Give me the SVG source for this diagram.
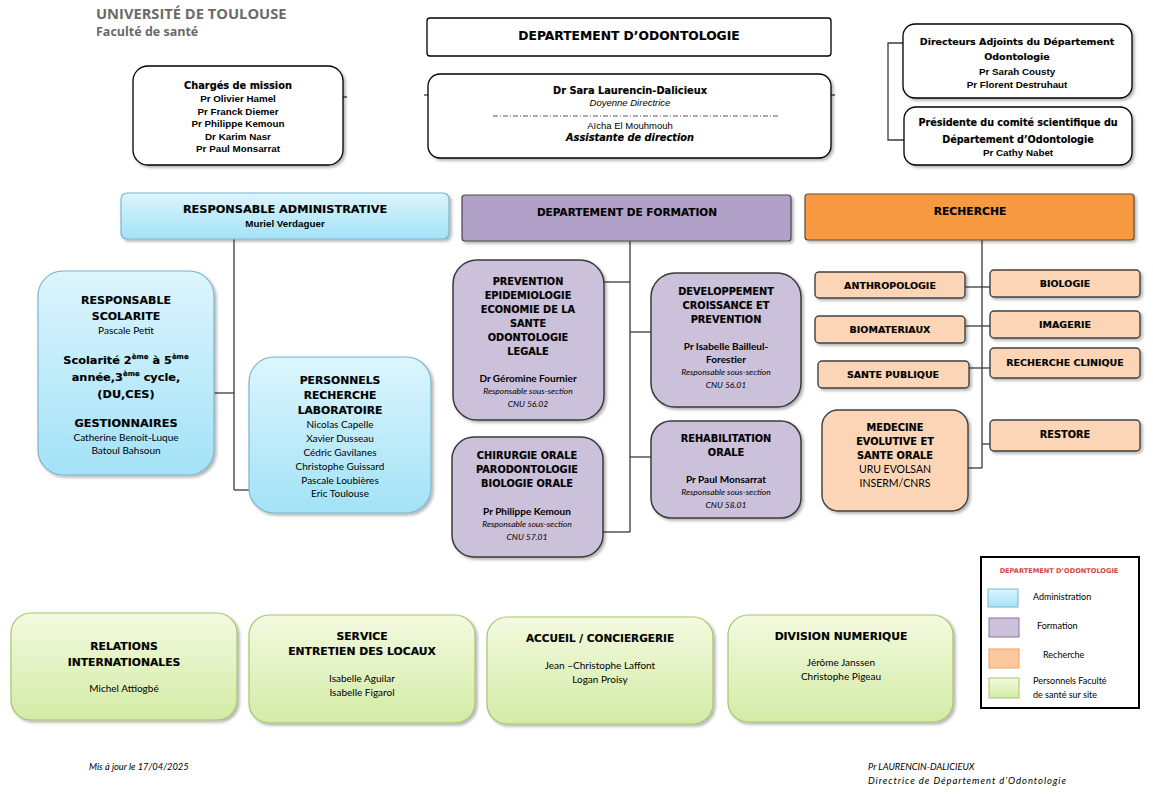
<svg xmlns="http://www.w3.org/2000/svg" width="1153" height="799" viewBox="0 0 1153 799">
<style>
text{text-anchor:middle;fill:#000}
.hv{font-family:"DejaVu Sans",Verdana,sans-serif;font-weight:bold;stroke:#000;stroke-width:0.15}
.ab{font-family:"Liberation Sans",Arial,sans-serif;font-weight:bold}
.ar{font-family:"Liberation Sans",Arial,sans-serif}
.ai{font-family:"Liberation Sans",Arial,sans-serif;font-style:italic}
.cb{font-family:Lato,"Open Sans",sans-serif}
.cbb{font-family:Lato,"Open Sans",sans-serif;font-weight:bold}
.ci{font-family:Lato,"Open Sans",sans-serif;font-style:italic}
.top{fill:#fff;stroke:#000;stroke-width:1.3}
.adm{fill:url(#blue);stroke:#7ab5cc;stroke-width:1.2}
.frm{fill:#ccc1da;stroke:#3a3a3a;stroke-width:1.5}
.frh{fill:#b1a0c7;stroke:#4a4a4a;stroke-width:1.2}
.rch{fill:#f89a42;stroke:#6b4a2a;stroke-width:1.2}
.rcs{fill:#fbd5b5;stroke:#404040;stroke-width:1.4}
.grn{fill:url(#green);stroke:#a7c36b;stroke-width:1.2}
.ln{stroke:#3a3a3a;stroke-width:1.3;fill:none}
</style>
<defs>
<linearGradient id="blue" x1="0" y1="0" x2="0" y2="1"><stop offset="0" stop-color="#dcf5fd"/><stop offset="1" stop-color="#a3e2f7"/></linearGradient>
<linearGradient id="green" x1="0" y1="0" x2="0" y2="1"><stop offset="0" stop-color="#f3fadf"/><stop offset="1" stop-color="#d3eba6"/></linearGradient>
<filter id="sh" x="-10%" y="-10%" width="130%" height="130%"><feDropShadow dx="2" dy="2" stdDeviation="1.5" flood-color="#000" flood-opacity="0.3"/></filter>
</defs>
<rect width="1153" height="799" fill="#fff"/>

<g id="logo">
<text x="96" y="19" style="text-anchor:start;font-family:'Open Sans',sans-serif;font-weight:bold;font-size:14.7px;fill:#6a6a6a">UNIVERSITÉ DE TOULOUSE</text>
<text x="96" y="36" style="text-anchor:start;font-family:'Open Sans',sans-serif;font-weight:bold;font-size:12.5px;fill:#6a6a6a">Faculté de santé</text>
</g>

<g id="connectors">
<line class="ln" x1="343" y1="97" x2="347" y2="97"/>
<line class="ln" x1="424" y1="95" x2="428" y2="95"/>
<line class="ln" x1="831" y1="95" x2="835" y2="95"/>
<polyline class="ln" points="903,43 888,43 888,140 904,140"/>
<line class="ln" x1="234" y1="239" x2="234" y2="490"/>
<line class="ln" x1="214" y1="393" x2="234" y2="393"/>
<line class="ln" x1="234" y1="490" x2="250" y2="490"/>
<line class="ln" x1="630" y1="241" x2="630" y2="532"/>
<line class="ln" x1="604" y1="282" x2="630" y2="282"/>
<line class="ln" x1="630" y1="332" x2="651" y2="332"/>
<line class="ln" x1="630" y1="457" x2="651" y2="457"/>
<line class="ln" x1="603" y1="532" x2="630" y2="532"/>
<line class="ln" x1="982" y1="240" x2="982" y2="468"/>
<line class="ln" x1="965" y1="287" x2="990" y2="287"/>
<line class="ln" x1="965" y1="326" x2="990" y2="326"/>
<line class="ln" x1="969" y1="368" x2="990" y2="368"/>
<line class="ln" x1="982" y1="444" x2="990" y2="444"/>
<line class="ln" x1="968" y1="468" x2="982" y2="468"/>
</g>

<g id="dept">
<rect class="top" x="427" y="18" width="404" height="38" rx="3"/>
<text class="hv" x="629" y="40" font-size="12.3">DEPARTEMENT D’ODONTOLOGIE</text>
</g>

<g id="charges">
<rect class="top" x="133" y="66" width="210" height="99" rx="15" filter="url(#sh)"/>
<text class="hv" x="238" y="89" font-size="9.8">Chargés de mission</text>
<text class="ab" x="238" y="102" font-size="9.8">Pr Olivier Hamel</text>
<text class="ab" x="238" y="114.5" font-size="9.8">Pr Franck Diemer</text>
<text class="ab" x="238" y="127" font-size="9.8">Pr Philippe Kemoun</text>
<text class="ab" x="238" y="139.5" font-size="9.8">Dr Karim Nasr</text>
<text class="ab" x="238" y="152" font-size="9.8">Pr Paul Monsarrat</text>
</g>

<g id="doyenne">
<rect class="top" x="428" y="74" width="403" height="84" rx="12" filter="url(#sh)"/>
<text class="hv" x="630" y="94" font-size="9.8">Dr Sara Laurencin-Dalicieux</text>
<text class="ai" x="630" y="106" font-size="9.5">Doyenne Directrice</text>
<line x1="493" y1="116" x2="780" y2="116" stroke="#555" stroke-width="1" stroke-dasharray="5,2,1,2"/>
<text class="ar" x="630" y="129" font-size="9.5">Aïcha El Mouhmouh</text>
<text class="hv" x="630" y="141" font-size="9.8" font-style="italic">Assistante de direction</text>
</g>

<g id="directeurs">
<rect class="top" x="903" y="24" width="229" height="74" rx="12" filter="url(#sh)"/>
<text class="hv" x="1017" y="45" font-size="9.5">Directeurs Adjoints du Département</text>
<text class="hv" x="1017" y="60" font-size="9.5">Odontologie</text>
<text class="ab" x="1017" y="75" font-size="9.8">Pr Sarah Cousty</text>
<text class="ab" x="1017" y="88" font-size="9.8">Pr Florent Destruhaut</text>
</g>

<g id="presidente">
<rect class="top" x="904" y="107" width="228" height="58" rx="12" filter="url(#sh)"/>
<text class="hv" x="1018" y="126" font-size="9.6">Présidente du comité scientifique du</text>
<text class="hv" x="1018" y="143" font-size="9.6">Département d’Odontologie</text>
<text class="ab" x="1018" y="156" font-size="9.8">Pr Cathy Nabet</text>
</g>

<g id="resp-admin">
<rect class="adm" x="121" y="193" width="328" height="46" rx="6" filter="url(#sh)"/>
<text class="hv" x="285" y="213" font-size="11.3">RESPONSABLE ADMINISTRATIVE</text>
<text class="ab" x="285" y="227" font-size="9.8">Muriel Verdaguer</text>
</g>

<g id="dept-formation">
<rect class="frh" x="462" y="195" width="329" height="46" rx="3" filter="url(#sh)"/>
<text class="hv" x="627" y="216" font-size="10.5">DEPARTEMENT DE FORMATION</text>
</g>

<g id="recherche">
<rect class="rch" x="805" y="194" width="329" height="46" rx="3" filter="url(#sh)"/>
<text class="hv" x="970" y="215" font-size="10.8">RECHERCHE</text>
</g>

<g id="scolarite">
<rect class="adm" x="38" y="271" width="176" height="204" rx="25" filter="url(#sh)"/>
<text class="hv" x="126" y="304" font-size="11">RESPONSABLE</text>
<text class="hv" x="126" y="320" font-size="11">SCOLARITE</text>
<text class="cb" x="126" y="334" font-size="10">Pascale Petit</text>
<text class="hv" x="126" y="364" font-size="11.3">Scolarité 2<tspan font-size="7" dy="-5">ème</tspan><tspan dy="5"> à 5</tspan><tspan font-size="7" dy="-5">ème</tspan></text>
<text class="hv" x="126" y="381" font-size="11.3">année,3<tspan font-size="7" dy="-5">ème</tspan><tspan dy="5"> cycle,</tspan></text>
<text class="hv" x="126" y="398" font-size="11.3">(DU,CES)</text>
<text class="hv" x="126" y="427" font-size="11.3">GESTIONNAIRES</text>
<text class="cb" x="126" y="441" font-size="10">Catherine Benoit-Luque</text>
<text class="cb" x="126" y="454" font-size="10">Batoul Bahsoun</text>
</g>

<g id="personnels-recherche">
<rect class="adm" x="249" y="357" width="182" height="156" rx="25" filter="url(#sh)"/>
<text class="hv" x="340" y="384" font-size="10.8">PERSONNELS</text>
<text class="hv" x="340" y="399" font-size="10.8">RECHERCHE</text>
<text class="hv" x="340" y="414" font-size="10.8">LABORATOIRE</text>
<text class="cb" x="340" y="428" font-size="10">Nicolas Capelle</text>
<text class="cb" x="340" y="442" font-size="10">Xavier Dusseau</text>
<text class="cb" x="340" y="456" font-size="10">Cédric Gavilanes</text>
<text class="cb" x="340" y="470" font-size="10">Christophe Guissard</text>
<text class="cb" x="340" y="484" font-size="10">Pascale Loubières</text>
<text class="cb" x="340" y="497" font-size="10">Eric Toulouse</text>
</g>

<g id="prevention">
<rect class="frm" x="453" y="260" width="151" height="160" rx="24" filter="url(#sh)"/>
<text class="hv" x="528" y="285" font-size="9.8">PREVENTION</text>
<text class="hv" x="528" y="299" font-size="9.8">EPIDEMIOLOGIE</text>
<text class="hv" x="528" y="313" font-size="9.8">ECONOMIE DE LA</text>
<text class="hv" x="528" y="327" font-size="9.8">SANTE</text>
<text class="hv" x="528" y="341" font-size="9.8">ODONTOLOGIE</text>
<text class="hv" x="528" y="355" font-size="9.8">LEGALE</text>
<text class="cbb" x="528" y="382" font-size="10">Dr Géromine Fournier</text>
<text class="ci" x="528" y="394" font-size="8.5">Responsable sous-section</text>
<text class="ci" x="528" y="407" font-size="8.5">CNU 56.02</text>
</g>

<g id="chirurgie">
<rect class="frm" x="452" y="437" width="151" height="120" rx="22" filter="url(#sh)"/>
<text class="hv" x="527" y="459" font-size="9.8">CHIRURGIE ORALE</text>
<text class="hv" x="527" y="473" font-size="9.8">PARODONTOLOGIE</text>
<text class="hv" x="527" y="487" font-size="9.8">BIOLOGIE ORALE</text>
<text class="cbb" x="527" y="515" font-size="10">Pr Philippe Kemoun</text>
<text class="ci" x="527" y="527" font-size="8.5">Responsable sous-section</text>
<text class="ci" x="527" y="540" font-size="8.5">CNU 57.01</text>
</g>

<g id="developpement">
<rect class="frm" x="651" y="273" width="150" height="134" rx="24" filter="url(#sh)"/>
<text class="hv" x="726" y="295" font-size="9.8">DEVELOPPEMENT</text>
<text class="hv" x="726" y="309" font-size="9.8">CROISSANCE ET</text>
<text class="hv" x="726" y="323" font-size="9.8">PREVENTION</text>
<text class="cbb" x="726" y="350" font-size="10">Pr Isabelle Bailleul-</text>
<text class="cbb" x="726" y="363" font-size="10">Forestier</text>
<text class="ci" x="726" y="375" font-size="8.5">Responsable sous-section</text>
<text class="ci" x="726" y="388" font-size="8.5">CNU 56.01</text>
</g>

<g id="rehabilitation">
<rect class="frm" x="651" y="421" width="150" height="97" rx="20" filter="url(#sh)"/>
<text class="hv" x="726" y="442" font-size="9.8">REHABILITATION</text>
<text class="hv" x="726" y="456" font-size="9.8">ORALE</text>
<text class="cbb" x="726" y="483" font-size="10">Pr Paul Monsarrat</text>
<text class="ci" x="726" y="495" font-size="8.5">Responsable sous-section</text>
<text class="ci" x="726" y="508" font-size="8.5">CNU 58.01</text>
</g>

<g id="anthropologie">
<rect class="rcs" x="815" y="272" width="150" height="26" rx="4" filter="url(#sh)"/>
<text class="hv" x="890" y="289" font-size="9.5">ANTHROPOLOGIE</text>
</g>
<g id="biologie">
<rect class="rcs" x="990" y="270" width="150" height="27" rx="4" filter="url(#sh)"/>
<text class="hv" x="1065" y="287" font-size="9.5">BIOLOGIE</text>
</g>
<g id="biomateriaux">
<rect class="rcs" x="815" y="316" width="150" height="27" rx="4" filter="url(#sh)"/>
<text class="hv" x="890" y="333" font-size="9.5">BIOMATERIAUX</text>
</g>
<g id="imagerie">
<rect class="rcs" x="990" y="311" width="150" height="27" rx="4" filter="url(#sh)"/>
<text class="hv" x="1065" y="328" font-size="9.5">IMAGERIE</text>
</g>
<g id="sante-publique">
<rect class="rcs" x="818" y="361" width="151" height="27" rx="4" filter="url(#sh)"/>
<text class="hv" x="893" y="378" font-size="9.5">SANTE PUBLIQUE</text>
</g>
<g id="recherche-clinique">
<rect class="rcs" x="990" y="348" width="150" height="30" rx="4" filter="url(#sh)"/>
<text class="hv" x="1065" y="366" font-size="9.5">RECHERCHE CLINIQUE</text>
</g>
<g id="medecine">
<rect class="rcs" x="822" y="410" width="146" height="101" rx="16" filter="url(#sh)"/>
<text class="hv" x="895" y="431" font-size="9.8">MEDECINE</text>
<text class="hv" x="895" y="445" font-size="9.8">EVOLUTIVE ET</text>
<text class="hv" x="895" y="459" font-size="9.8">SANTE ORALE</text>
<text class="cb" x="895" y="473" font-size="10.5">URU EVOLSAN</text>
<text class="cb" x="895" y="487" font-size="10.5">INSERM/CNRS</text>
</g>
<g id="restore">
<rect class="rcs" x="990" y="420" width="150" height="31" rx="4" filter="url(#sh)"/>
<text class="hv" x="1065" y="438" font-size="9.8">RESTORE</text>
</g>

<g id="relations">
<rect class="grn" x="11" y="613" width="226" height="107" rx="20" filter="url(#sh)"/>
<text class="hv" x="124" y="650" font-size="10.8">RELATIONS</text>
<text class="hv" x="124" y="666" font-size="10.8">INTERNATIONALES</text>
<text class="cb" x="124" y="692" font-size="10">Michel Attiogbé</text>
</g>
<g id="entretien">
<rect class="grn" x="249" y="615" width="226" height="108" rx="20" filter="url(#sh)"/>
<text class="hv" x="362" y="640" font-size="10.8">SERVICE</text>
<text class="hv" x="362" y="655" font-size="10.8">ENTRETIEN DES LOCAUX</text>
<text class="cb" x="362" y="682" font-size="10">Isabelle Aguilar</text>
<text class="cb" x="362" y="696" font-size="10">Isabelle Figarol</text>
</g>
<g id="accueil">
<rect class="grn" x="487" y="617" width="226" height="107" rx="20" filter="url(#sh)"/>
<text class="hv" x="600" y="642" font-size="10.5">ACCUEIL / CONCIERGERIE</text>
<text class="cb" x="600" y="669" font-size="10">Jean –Christophe Laffont</text>
<text class="cb" x="600" y="683" font-size="10">Logan Proisy</text>
</g>
<g id="numerique">
<rect class="grn" x="728" y="615" width="225" height="107" rx="20" filter="url(#sh)"/>
<text class="hv" x="841" y="640" font-size="10.8">DIVISION NUMERIQUE</text>
<text class="cb" x="841" y="666" font-size="10">Jérôme Janssen</text>
<text class="cb" x="841" y="680" font-size="10">Christophe Pigeau</text>
</g>

<g id="legend">
<rect x="981" y="557" width="158" height="151" fill="#fff" stroke="#000" stroke-width="2"/>
<text x="1059" y="573" style="font-family:'DejaVu Sans',sans-serif;font-weight:bold;font-size:6.6px;fill:#d2473f">DEPARTEMENT D’ODONTOLOGIE</text>
<rect x="988" y="589" width="30" height="18" fill="url(#blue)" stroke="#7ab5cc"/>
<text class="cb" x="1033" y="600" font-size="9" style="text-anchor:start">Administration</text>
<rect x="989" y="618" width="30" height="19" fill="#ccc1da" stroke="#8b74ab"/>
<text class="cb" x="1037" y="629" font-size="9" style="text-anchor:start">Formation</text>
<rect x="989" y="649" width="30" height="19" fill="#fbc79c" stroke="#f0a068"/>
<text class="cb" x="1043" y="658" font-size="9" style="text-anchor:start">Recherche</text>
<rect x="989" y="678" width="30" height="20" fill="url(#green)" stroke="#a7c36b"/>
<text class="cb" x="1033" y="684" font-size="9" style="text-anchor:start">Personnels Faculté</text>
<text class="cb" x="1033" y="698" font-size="9" style="text-anchor:start">de santé sur site</text>
</g>

<g id="footer">
<text class="ci" x="89" y="770" font-size="9.3" style="text-anchor:start">Mis à jour le 17/04/2025</text>
<text class="ci" x="868" y="770" font-size="9.3" style="text-anchor:start">Pr LAURENCIN-DALICIEUX</text>
<text class="ci" x="868" y="784" font-size="9.5" textLength="198" lengthAdjust="spacing" style="text-anchor:start">Directrice de Département d’Odontologie</text>
</g>
</svg>
